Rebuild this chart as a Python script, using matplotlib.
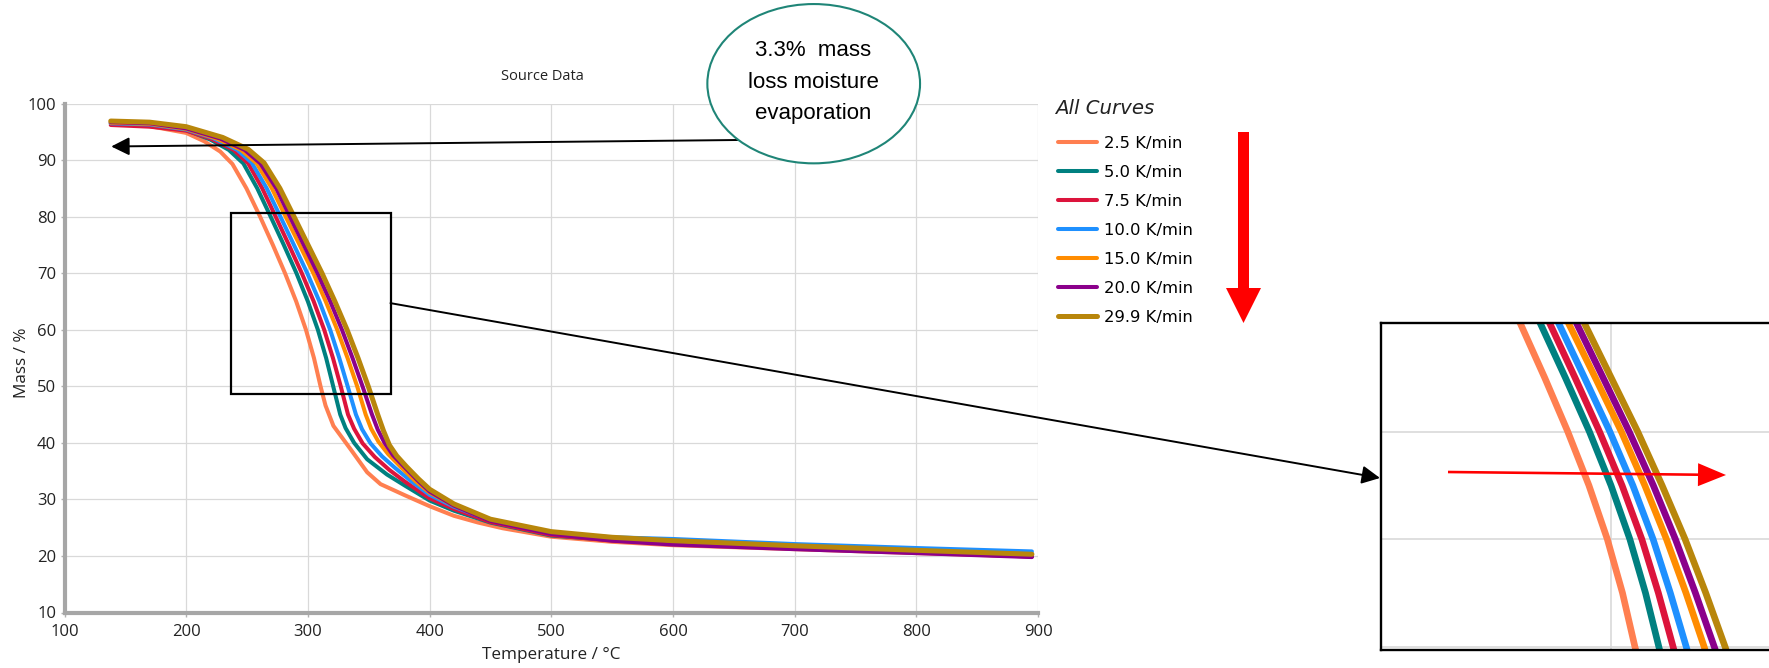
import matplotlib
matplotlib.use("Agg")
import matplotlib.pyplot as plt
from matplotlib.patches import Ellipse, FancyArrow, Rectangle
from matplotlib.font_manager import FontProperties

plt.rcParams["font.family"] = ["Open Sans", "DejaVu Sans"]

W, H, DPI = 1769, 668, 100

# heating rates (legend order)
rates = ["2.5 K/min", "5.0 K/min", "7.5 K/min", "10.0 K/min",
         "15.0 K/min", "20.0 K/min", "29.9 K/min"]

# TGA curves: temperature (°C) and residual mass (%)
temp_2_5 = [138, 170, 200, 215, 228, 238, 249.5, 260.7, 271.2, 281.2, 290.4, 298.4, 305, 310.4,
            314.5, 321, 335, 348.7, 359.7, 380, 400, 420, 440, 460, 500, 550, 600, 700, 800, 895]
mass_2_5 = [96.6, 96.0, 94.8, 93.3, 91.5, 89.3, 85, 80, 75, 70, 65, 60, 55, 50,
            46.6, 43, 38.9, 34.8, 32.7, 30.7, 28.8, 27.1, 25.9, 24.9, 23.4, 22.5, 21.9, 21.2, 20.5, 19.9]

temp_5_0 = [138, 170, 200, 220, 235, 247, 258.4, 269.4, 280.2, 290.6, 300, 308.2, 315, 320.8,
            326.6, 331, 338, 348.7, 365, 380, 400, 420, 450, 500, 550, 600, 700, 800, 895]
mass_5_0 = [96.5, 96.2, 95.3, 93.6, 91.8, 89.4, 85, 80, 75, 70, 65, 60, 55, 50,
            45, 42.6, 40.0, 37.1, 34.4, 32.4, 29.8, 28.0, 25.9, 23.6, 22.8, 22.3, 21.5, 20.9, 20.3]

temp_7_5 = [138, 170, 200, 220, 239, 251, 262.5, 273.5, 284.4, 295, 304.8, 313.4, 320.6, 327,
            333, 338, 345, 355, 367, 380, 400, 420, 450, 500, 550, 600, 700, 800, 895]
mass_7_5 = [96.2, 95.9, 95.2, 93.8, 91.8, 89.4, 85, 80, 75, 70, 65, 60, 55, 50,
            45, 42.5, 39.9, 37.5, 35.2, 33.1, 30.2, 28.3, 26.0, 23.7, 22.7, 22.2, 21.3, 20.6, 19.9]

temp_10 = [138, 170, 200, 222, 242, 254, 266.2, 277.4, 288.5, 299.5, 309.5, 318.3, 325.8, 332.7,
           339.5, 344.5, 351.5, 361, 372, 385, 400, 420, 450, 500, 550, 600, 700, 800, 895]
mass_10 = [96.5, 96.3, 95.4, 93.9, 91.8, 89.5, 85, 80, 75, 70, 65, 60, 55, 50,
           45, 42.4, 39.9, 37.6, 35.5, 33.2, 30.8, 28.7, 26.3, 24.0, 23.3, 23.0, 22.1, 21.4, 20.8]

temp_15 = [138, 170, 200, 225, 245, 258, 270.4, 281.7, 293.2, 304.5, 314.7, 324.1, 332.6, 340.5,
           347.5, 352, 358, 366, 376, 388, 400, 420, 450, 500, 550, 600, 700, 800, 895]
mass_15 = [96.6, 96.4, 95.5, 93.8, 91.8, 89.4, 85, 80, 75, 70, 65, 60, 55, 50,
           45, 42.5, 40.2, 38.0, 35.8, 33.3, 31.2, 28.9, 26.4, 24.1, 23.1, 22.6, 21.7, 20.9, 20.3]

temp_20 = [138, 170, 200, 228, 248, 261, 274, 285.2, 296.6, 307.9, 318.4, 328, 336.7, 344.9,
           352.7, 357.5, 363, 370, 379, 390, 400, 420, 450, 500, 550, 600, 700, 800, 895]
mass_20 = [96.7, 96.5, 95.6, 93.8, 91.8, 89.4, 85, 80, 75, 70, 65, 60, 55, 50,
           45, 42.3, 40.0, 37.8, 35.8, 33.4, 31.4, 28.9, 26.2, 23.9, 22.7, 22.0, 21.2, 20.5, 19.8]

temp_29_9 = [138, 170, 200, 230, 251, 264, 277, 288.6, 300.1, 311.6, 322.2, 332.2, 341.2, 349.6,
             357.4, 362, 367, 373, 381, 391, 400, 420, 450, 500, 550, 600, 700, 800, 895]
mass_29_9 = [96.9, 96.7, 95.9, 94.0, 91.9, 89.5, 85, 80, 75, 70, 65, 60, 55, 50,
             45, 42.2, 39.6, 37.7, 35.8, 33.6, 31.8, 29.2, 26.5, 24.3, 23.3, 22.7, 21.8, 21.0, 20.3]

temps = [temp_2_5, temp_5_0, temp_7_5, temp_10, temp_15, temp_20, temp_29_9]
masses = [mass_2_5, mass_5_0, mass_7_5, mass_10, mass_15, mass_20, mass_29_9]
colors = ["coral", "teal", "crimson", "dodgerblue", "darkorange", "darkmagenta", "darkgoldenrod"]
widths = [2.9, 2.9, 2.9, 2.9, 2.9, 2.9, 3.6]

x_ticks = list(range(100, 901, 100))
y_ticks = list(range(10, 101, 10))

# zoom window marked on the main chart
zoom_t = (237.2, 367.9)
zoom_m = (48.65, 80.6)


def fig_frac(x, y):
    """pixel position (from top-left) -> figure fraction"""
    return x / W, 1 - y / H


def inch(x, y):
    return x / DPI, (H - y) / DPI


fig = plt.figure(figsize=(W / DPI, H / DPI), dpi=DPI)

# main axes
l, b = fig_frac(64.5, 612.5)
ax = fig.add_axes([l, b, (1038 - 64.5) / W, (612.5 - 103.5) / H])
lines = []
for t, m, c, w, lab in zip(temps, masses, colors, widths, rates):
    ln, = ax.plot(t, m, color=c, lw=w, label=lab,
                  solid_capstyle="round", solid_joinstyle="round")
    lines.append(ln)

ax.set_xlim(100, 900)
ax.set_ylim(10, 100)
ax.set_xticks(x_ticks)
ax.set_yticks(y_ticks)
ax.grid(True, color="#d9d9d9", lw=0.9)
ax.set_axisbelow(True)
for s in ["top", "right"]:
    ax.spines[s].set_visible(False)
for s in ["left", "bottom"]:
    ax.spines[s].set_color("#a6a6a6")
    ax.spines[s].set_linewidth(3.0)
ax.tick_params(length=3, width=1, color="#b0b0b0", labelsize=12, labelcolor="#222222")
ax.tick_params(axis="x", pad=5)
ax.tick_params(axis="y", pad=3)
ax.set_xlabel("Temperature / °C", fontsize=12.3, color="#222222")
ax.set_ylabel("Mass / %", fontsize=12.3, color="#222222")
ax.xaxis.set_label_coords(0.5, -0.068)
ax.yaxis.set_label_coords(-0.035, 0.49)

fig.text(*fig_frac(542, 76), "Source Data", ha="center", va="center",
         fontsize=10.5, color="#222222")

ax.add_patch(Rectangle((zoom_t[0], zoom_m[0]), zoom_t[1] - zoom_t[0], zoom_m[1] - zoom_m[0],
                       fill=False, ec="black", lw=1.6, zorder=4))

# inset: magnified view of the steep section
il, ib = fig_frac(1381, 650)
axin = fig.add_axes([il, ib, (1775 - 1381) / W, (650 - 323) / H])
for t, m, c in zip(temps, masses, colors):
    axin.plot(t, m, color=c, lw=4.8, solid_capstyle="butt", solid_joinstyle="round")
axin.set_xlim(200, 371.3)
axin.set_ylim(49.7, 80.1)
axin.set_xticks([300])
axin.set_yticks([50, 60, 70])
axin.grid(True, color="#d9d9d9", lw=1.2)
axin.set_axisbelow(True)
axin.tick_params(length=0, labelbottom=False, labelleft=False)
for s in axin.spines.values():
    s.set_linewidth(1.7)
    s.set_color("black")

arrow_kw = dict(arrowstyle="-|>,head_length=1.1,head_width=0.55", color="black",
                lw=1.4, shrinkA=0, shrinkB=0, mutation_scale=10)
# connector from the marked window to the inset
ax.annotate("", xy=(1380, H - 478), xycoords="figure pixels",
            xytext=(zoom_t[1], 64.7), textcoords="data", arrowprops=arrow_kw)
# moisture-loss pointer
ax.annotate("", xy=(138.4, 92.4), xycoords="data",
            xytext=(738, H - 140), textcoords="figure pixels", arrowprops=arrow_kw)

# callout bubble
fig.add_artist(Ellipse(inch(813.7, 83.7), 2.127, 1.593, transform=fig.dpi_scale_trans,
                       fc="white", ec="#1f8577", lw=1.5))
fig.text(*fig_frac(813.5, 82), "3.3%  mass\nloss moisture\nevaporation",
         ha="center", va="center", ma="center", fontsize=16, linespacing=1.65,
         family="Liberation Sans", color="black")

# legend
fig.text(*fig_frac(1055, 108), "All Curves", ha="left", va="center",
         family="DejaVu Sans", style="italic", fontsize=14.2, color="#222222")
fig.legend(handles=lines, labels=rates, loc="upper left",
           bbox_to_anchor=fig_frac(1058, 136), frameon=False,
           prop=FontProperties(family="DejaVu Sans", size=11.8),
           handlelength=2.38, handletextpad=0.43, labelspacing=0.85,
           borderpad=0, borderaxespad=0)

# red arrows: heating-rate order and shift direction
x0, y0 = inch(1243.5, 132)
fig.add_artist(FancyArrow(x0, y0, 0, -(323 - 132) / DPI, width=0.11, head_width=0.35,
                          head_length=0.35, length_includes_head=True, color="red",
                          lw=0, transform=fig.dpi_scale_trans))
x0, y0 = inch(1448, 472)
fig.add_artist(FancyArrow(x0, y0, (1726 - 1448) / DPI, -(475 - 472) / DPI, width=0.026,
                          head_width=0.23, head_length=0.28, length_includes_head=True,
                          color="red", lw=0, transform=fig.dpi_scale_trans))

fig.savefig("out.png", dpi=DPI)
